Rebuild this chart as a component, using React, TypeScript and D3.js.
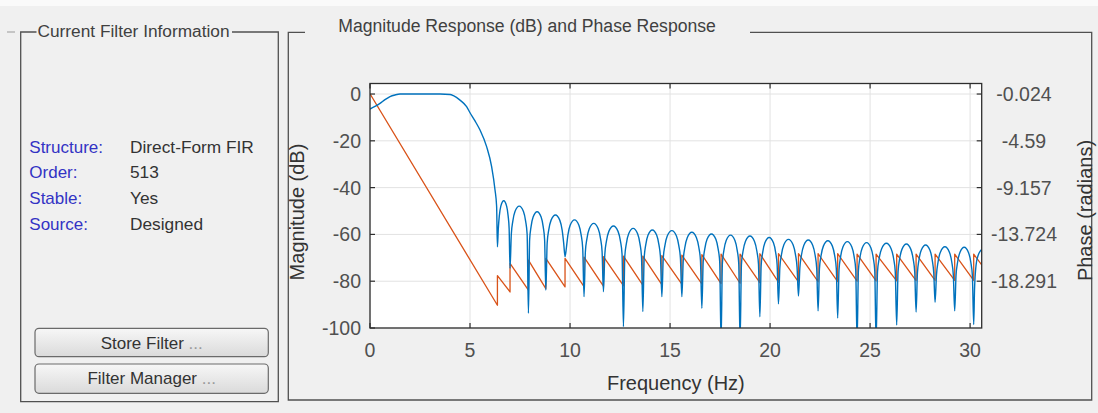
import React from 'react';
import * as d3 from 'd3';

const W = 1098;
const H = 413;

// ---- axis ticks / labels ----
const freqTicks = [0, 5, 10, 15, 20, 25, 30];
const magTicks = [0, -20, -40, -60, -80, -100];
const phaseTicks = [-0.024, -4.59, -9.157, -13.724, -18.291];
const phaseTickLabels = ['-0.024', '-4.59', '-9.157', '-13.724', '-18.291'];

const infoLabels = ['Structure:', 'Order:', 'Stable:', 'Source:'];
const infoValues = ['Direct-Form FIR', '513', 'Yes', 'Designed'];
const buttonLabels = ['Store Filter', 'Filter Manager'];

// ---- magnitude response ----
const passbandHz = [0, 0.25, 0.5, 0.75, 1.0, 1.25, 1.5, 2.5, 3.5, 4.0, 4.17, 4.5, 4.83, 5.0, 5.25, 5.5, 5.83, 6.08, 6.25, 6.33];
const passbandDb = [-6.4, -5.3, -4.0, -2.4, -1.1, -0.4, 0, 0, 0, -0.2, -0.7, -2.6, -5.4, -8.0, -11.5, -15.4, -22.5, -31, -41, -48];

const nullHz = [6.37, 7.0, 7.92, 8.79, 9.75, 10.7, 11.67, 12.67, 13.64, 14.59, 15.59, 16.59, 17.55, 18.5, 19.49, 20.42, 21.42, 22.4, 23.38, 24.35, 25.3, 26.33, 27.3, 28.25, 29.23, 30.18];
const nullDb = [-65.3, -74.5, -93.7, -83.8, -69.5, -86.6, -84.5, -99.4, -93.0, -86.6, -86.6, -91.6, -106, -106, -95.2, -89.7, -86.3, -92.7, -95.7, -106, -106, -98.7, -93.2, -89, -92.7, -98.5];
const lobePeakDb = [-45.6, -47.9, -50.3, -51.7, -53.8, -55.3, -56.4, -57.4, -58.1, -58.4, -59.1, -59.8, -60.3, -60.7, -61.3, -62.1, -62.4, -62.7, -63.1, -63.5, -63.8, -64.1, -64.5, -65.3, -65.5];
const tailHz = [30.22, 30.3, 30.4, 30.5, 30.58];
const tailDb = [-84, -73, -69, -67.2, -66.4];

// ---- phase response (radians) ----
const phaseStartHz = 0;
const phaseStart = 0;
const phaseBefore = [-20.64, -19.34, -19.17, -19.01, -18.85, -18.83, -18.78, -18.73, -18.68, -18.63, -18.58, -18.54, -18.52, -18.49, -18.44, -18.39, -18.36, -18.34, -18.32, -18.29, -18.27, -18.25, -18.24, -18.22, -18.21, -18.2];
const phaseAfter = [-17.75, -16.56, -16.24, -16.07, -16.07, -15.95, -15.9, -15.85, -15.85, -15.8, -15.75, -15.7, -15.65, -15.65, -15.61, -15.61, -15.59, -15.61, -15.61, -15.65, -15.65, -15.65, -15.65, -15.65, -15.65, -15.65];
const phaseEndHz = 30.58;
const phaseEnd = -16.7;

// drawing shape of one side-lobe arch (fraction of lobe width, dB below lobe peak)
const LOBE_SHAPE: [number, number][] = [
  [0.07, -12], [0.15, -6.5], [0.27, -2.3], [0.5, 0], [0.73, -2.3], [0.85, -6.5], [0.93, -12],
];

const FONT = '"Liberation Sans", Arial, Helvetica, sans-serif';
const BLUE = '#0072BD';
const ORANGE = '#D95319';

export default function App() {
  const plot = { left: 370, right: 981.7, top: 83.5, bottom: 328 };
  const x = d3.scaleLinear().domain([0, 30.58]).range([plot.left, plot.right]);
  const yMag = d3.scaleLinear().domain([-100, 4.5]).range([plot.bottom, plot.top]);
  const yPh = d3
    .scaleLinear()
    .domain([phaseTicks[0], phaseTicks[4]])
    .range([yMag(magTicks[0]), yMag(magTicks[4])]);

  // magnitude points
  const mag: [number, number][] = passbandHz.map((f, i) => [f, passbandDb[i]]);
  nullHz.forEach((f, i) => {
    mag.push([f, nullDb[i]]);
    if (i < lobePeakDb.length) {
      const w = nullHz[i + 1] - f;
      LOBE_SHAPE.forEach(([t, off]) => mag.push([f + t * w, lobePeakDb[i] + off]));
    }
  });
  tailHz.forEach((f, i) => mag.push([f, tailDb[i]]));

  const magLine = d3
    .line<[number, number]>()
    .x((d) => x(d[0]))
    .y((d) => yMag(d[1]))
    .curve(d3.curveMonotoneX);

  const ph: [number, number][] = [[phaseStartHz, phaseStart]];
  nullHz.forEach((f, i) => {
    ph.push([f, phaseBefore[i]]);
    ph.push([f, phaseAfter[i]]);
  });
  ph.push([phaseEndHz, phaseEnd]);
  const phLine = d3
    .line<[number, number]>()
    .x((d) => x(d[0]))
    .y((d) => yPh(d[1]));

  const panelStroke = '#505050';
  const tickColor = '#505050';

  return (
    <svg
      width={W}
      height={H}
      style={{ position: 'absolute', left: 0, top: 0, display: 'block' }}
      fontFamily={FONT}
    >
      <defs>
        <clipPath id="plotClip">
          <rect x={plot.left} y={plot.top} width={plot.right - plot.left} height={plot.bottom - plot.top} />
        </clipPath>
        <linearGradient id="btnGrad" x1="0" y1="0" x2="0" y2="1">
          <stop offset="0" stopColor="#F7F7F7" />
          <stop offset="1" stopColor="#DADADA" />
        </linearGradient>
      </defs>
      <rect x={0} y={0} width={W} height={H} fill="#F0F0F0" />
      <rect x={0} y={0} width={W} height={6} fill="#FAFAFA" />

      {/* stray outer border piece */}
      <line x1={7} x2={15} y1={32} y2={32} stroke="#9A9A9A" strokeWidth={1} />

      {/* Left panel */}
      <g stroke={panelStroke} strokeWidth={1.3} fill="none">
        <path d={`M36.5,32 H20.7 V401.7 H278.3 V32 H232`} />
      </g>
      <text x={37.5} y={36.5} fontSize={17.3} fill="#404040">
        Current Filter Information
      </text>
      {infoLabels.map((l, i) => (
        <g key={l}>
          <text x={29.3} y={152.7 + i * 25.7} fontSize={17} fill="#3333C4">
            {l}
          </text>
          <text x={130} y={152.7 + i * 25.7} fontSize={17.3} fill="#333333">
            {infoValues[i]}
          </text>
        </g>
      ))}
      {buttonLabels.map((b, i) => {
        const by = i === 0 ? 328.3 : 364;
        const bh = i === 0 ? 28.4 : 29.3;
        return (
          <g key={b}>
            <rect x={35} y={by} width={233.3} height={bh} rx={4} ry={4} fill="url(#btnGrad)" stroke="#6A6A6A" strokeWidth={1.2} />
            <text x={151.7} y={by + 20.2} fontSize={17} fill="#333333" textAnchor="middle">
              {b}
              <tspan fill="#9A9A9A"> ...</tspan>
            </text>
          </g>
        );
      })}

      {/* Right panel */}
      <g stroke={panelStroke} strokeWidth={1.3} fill="none">
        <path d={`M305,32.3 H288.3 V400 H1091.7 V32.3 H750`} />
      </g>
      <text x={338.3} y={31.5} fontSize={17.6} fill="#404040">
        Magnitude Response (dB) and Phase Response
      </text>

      {/* Plot area */}
      <rect x={plot.left} y={plot.top} width={plot.right - plot.left} height={plot.bottom - plot.top} fill="#FFFFFF" />
      <g stroke="#E2E2E2" strokeWidth={1}>
        {freqTicks.map((t) => (
          <line key={'gx' + t} x1={x(t)} x2={x(t)} y1={plot.top} y2={plot.bottom} />
        ))}
        {magTicks.map((t) => (
          <line key={'gy' + t} x1={plot.left} x2={plot.right} y1={yMag(t)} y2={yMag(t)} />
        ))}
      </g>

      <g clipPath="url(#plotClip)" fill="none">
        <path d={phLine(ph) || ''} stroke={ORANGE} strokeWidth={1.3} strokeLinejoin="round" />
        <path d={magLine(mag) || ''} stroke={BLUE} strokeWidth={1.4} strokeLinejoin="round" />
      </g>

      {/* Axes frame & ticks */}
      <rect x={plot.left} y={plot.top} width={plot.right - plot.left} height={plot.bottom - plot.top} fill="none" stroke="#2E2E2E" strokeWidth={1.3} />
      <g stroke="#2E2E2E" strokeWidth={1.2}>
        {freqTicks.map((t) => (
          <g key={'tx' + t}>
            <line x1={x(t)} x2={x(t)} y1={plot.bottom} y2={plot.bottom - 5} />
            <line x1={x(t)} x2={x(t)} y1={plot.top} y2={plot.top + 5} />
          </g>
        ))}
        {magTicks.map((t) => (
          <line key={'ty' + t} x1={plot.left} x2={plot.left + 5} y1={yMag(t)} y2={yMag(t)} />
        ))}
        {phaseTicks.map((t) => (
          <line key={'tp' + t} x1={plot.right} x2={plot.right - 5} y1={yPh(t)} y2={yPh(t)} />
        ))}
      </g>

      {/* tick labels */}
      {freqTicks.map((t) => (
        <text key={'lx' + t} x={x(t)} y={357.3} fontSize={19.5} fill={tickColor} textAnchor="middle">
          {t}
        </text>
      ))}
      {magTicks.map((t) => (
        <text key={'ly' + t} x={361} y={yMag(t)} dy="0.36em" fontSize={19.5} fill={tickColor} textAnchor="end">
          {t}
        </text>
      ))}
      {phaseTicks.map((t, i) => (
        <text key={'lp' + t} x={1024} y={yPh(t)} dy="0.36em" fontSize={19.5} fill={tickColor} textAnchor="middle">
          {phaseTickLabels[i]}
        </text>
      ))}

      {/* axis labels */}
      <text x={(plot.left + plot.right) / 2} y={389.5} fontSize={20} fill="#333333" textAnchor="middle">
        Frequency (Hz)
      </text>
      <text transform={`translate(304,212) rotate(-90)`} fontSize={20} fill="#333333" textAnchor="middle">
        Magnitude (dB)
      </text>
      <text transform={`translate(1092,210.5) rotate(-90)`} fontSize={20} fill="#333333" textAnchor="middle">
        Phase (radians)
      </text>
    </svg>
  );
}
